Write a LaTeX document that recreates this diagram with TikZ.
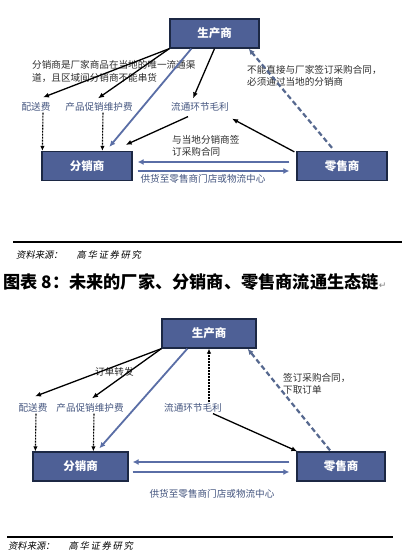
\documentclass[tikz,border=0pt]{standalone}
\usepackage{fontspec}
\setmainfont{Noto Sans CJK SC}
\newfontfamily\cjkit[FakeSlant=0.2]{Noto Sans CJK SC}
\newfontfamily\dejavu{DejaVu Sans}
\usetikzlibrary{arrows.meta,calc}
\definecolor{boxfill}{HTML}{4E6096}
\definecolor{boxedge}{HTML}{1C2844}
\definecolor{lblcol}{HTML}{44557F}
\definecolor{notecol}{HTML}{2E2E2E}
\definecolor{blueline}{HTML}{5A6EA6}
\definecolor{bluedash}{HTML}{56688F}
\tikzset{
 box/.style={draw=boxedge, fill=boxfill, line width=1.3pt, text=white,
   font=\fontsize{11.5}{12}\selectfont\bfseries, minimum width=#1, minimum height=29pt, inner sep=0pt},
 lbl/.style={text=lblcol, font=\fontsize{9.6}{10}\selectfont, inner sep=1pt},
 note/.style={text=notecol, font=\fontsize{9.6}{10}\selectfont, inner sep=0pt, anchor=base west},
 blk/.style={-{Latex[length=6pt,width=5pt]}, line width=1.3pt, black},
 vdash/.style={-{Latex[length=5pt,width=4.5pt]}, line width=1.1pt, dash pattern=on 2pt off 1pt, black},
 bsolid/.style={-{Latex[length=6pt,width=5.5pt]}, line width=1.8pt, blueline},
 bdash/.style={-{Latex[length=6pt,width=5.5pt]}, line width=2.2pt, dash pattern=on 5pt off 3pt, bluedash},
 harr/.style={-{Latex[length=6pt,width=6pt]}, line width=2pt, blueline},
 rulestyle/.style={line width=2pt, black},
 src/.style={anchor=base west, inner sep=0pt, text=black, font=\fontsize{9.3}{10}\selectfont\cjkit},
}
\begin{document}
\begin{tikzpicture}[x=1pt,y=-1pt]
\useasboundingbox[fill=white] (0,0) rectangle (405,556);

% ---------- top diagram ----------
\node[box=89] (p1) at (214.5,33.5) {生产商};
\node[box=90] (d1) at (87,166) {分销商};
\node[box=90] (r1) at (342,166) {零售商};
\node[lbl] (a1) at (36,107) {配送费};
\node[lbl] (a2) at (99,107) {产品促销维护费};
\node[lbl] (a3) at (200,107) {流通环节毛利};
\node[note] (n1a) at (32,68.6) {分销商是厂家商品在当地的唯一流通渠};
\node[note] (n1b) at (32,81.6) {道，且区域间分销商不能串货};
\node[note] (n2a) at (247,73.6) {不能直接与厂家签订采购合同，};
\node[note] (n2b) at (247,85.6) {必须通过当地的分销商};
\node[note] (n3a) at (172,143.6) {与当地分销商签};
\node[note] (n3b) at (172,155.6) {订采购合同};
\node[lbl] (s1) at (203,179) {供货至零售商门店或物流中心};

\draw[blk] (p1.south west) -- ($(a1.north)+(7,-4)$);
\draw[blk] (p1.south west) -- ($(a2.north)+(-1,-3)$);
\draw[blk] (p1.south) -- ($(a3.north)+(-7,-3)$);
\draw[vdash] ($(a1.south)+(7,0)$) -- ($(d1.north west)+(1,0)$);
\draw[vdash] ($(a2.south)+(4,0)$) -- ($(d1.north west)+(61,0)$);
\draw[bsolid] ($(p1.south west)+(22,0)$) -- ($(d1.north west)+(68,-4)$);
\draw[blk] ($(a3.south)+(-12,4)$) -- ($(d1.north east)+(-7,-6)$);
\draw[blk] ($(r1.north west)+(-2,1)$) -- ($(a3.south east)+(2,6)$);
\draw[bdash] ($(r1.north)+(-10,-3)$) -- ($(p1.south east)+(-11,0)$);
\draw[harr] ($(r1.west)+(-7,-4)$) -- ($(d1.east)+(5,-4)$);
\draw[harr] ($(d1.east)+(5,5)$) -- ($(r1.west)+(-7,5)$);

\draw[rulestyle] (13,242) -- (402,242);
\node[src] (src1) at (16,258) {资料来源：\hspace{14pt}{\addfontfeature{LetterSpace=18}高华证券研究}};

\node[anchor=base west, inner sep=0pt, font=\fontsize{17.2}{18}\selectfont\bfseries] (title) at (3,288.5)
  {图表 8：未来的厂家、分销商、零售商流通生态链{\dejavu\mdseries\fontsize{9}{10}\selectfont\color{gray}↵}};

% ---------- bottom diagram ----------
\node[box=94] (p2) at (209,333.5) {生产商};
\node[box=95] (q1) at (80.5,466.5) {分销商};
\node[box=88] (r2) at (341,466.5) {零售商};
\node[lbl] (b1) at (33,408) {配送费};
\node[lbl] (b2) at (90,408) {产品促销维护费};
\node[lbl] (b3) at (193,408) {流通环节毛利};
\node[note] (m1) at (95,375.6) {订单转发};
\node[note] (m2a) at (283,381.6) {签订采购合同，};
\node[note] (m2b) at (283,393.6) {下取订单};
\node[lbl] (s2) at (212,494) {供货至零售商门店或物流中心};

\draw[blk] (p2.south west) -- ($(b1.north)+(2,-6)$);
\draw[blk] (p2.south west) -- ($(b2.north)+(2,-4)$);
\draw[vdash] ($(b1.south)+(3,0)$) -- ($(q1.north west)+(3,0)$);
\draw[vdash] ($(b2.south)+(4,0)$) -- ($(q1.north west)+(61,0)$);
\draw[bsolid] ($(p2.south west)+(26,0)$) -- ($(q1.north west)+(67,-3)$);
\draw[vdash] ($(b3.north)+(16,0)$) -- (p2.south);
\draw[blk] ($(b3.south)+(20,0)$) -- ($(r2.north west)+(1,0)$);
\draw[bdash] ($(r2.north)+(-11,-1)$) -- ($(p2.south east)+(-9,0)$);
\draw[harr] ($(r2.west)+(-7,-4.5)$) -- ($(q1.east)+(4,-4.5)$);
\draw[harr] ($(q1.east)+(4,5.5)$) -- ($(r2.west)+(-7,5.5)$);

\draw[rulestyle] (7,537) -- (393,537);
\node[src] (src2) at (8,549.5) {资料来源：\hspace{14pt}{\addfontfeature{LetterSpace=18}高华证券研究}};
\end{tikzpicture}
\end{document}
